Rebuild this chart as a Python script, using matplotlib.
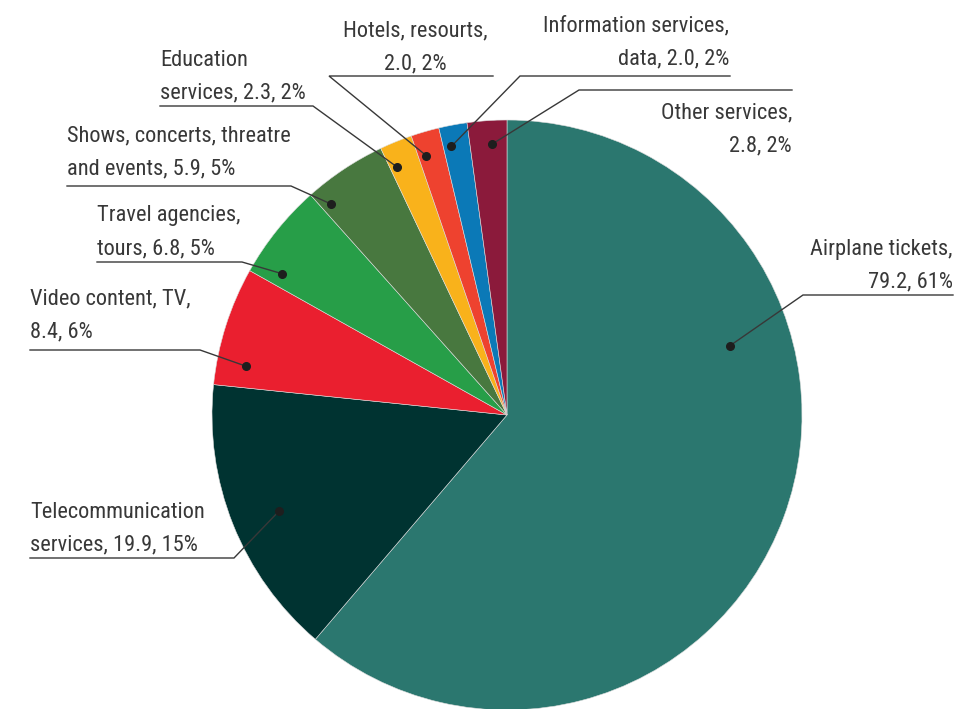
import numpy as np
import matplotlib
matplotlib.use("Agg")
from matplotlib import pyplot, font_manager

categories = ["Airplane tickets", "Telecommunication services", "Video content, TV",
              "Travel agencies, tours", "Shows, concerts, threatre and events",
              "Education services", "Hotels, resourts", "Information services, data",
              "Other services"]
values = [79.2, 19.9, 8.4, 6.8, 5.9, 2.3, 2.0, 2.0, 2.8]
shares = [61, 15, 6, 5, 5, 2, 2, 2, 2]
labels = ["Airplane tickets,\n79.2, 61%",
          "Telecommunication\nservices, 19.9, 15%",
          "Video content, TV,\n8.4, 6%",
          "Travel agencies,\ntours, 6.8, 5%",
          "Shows, concerts, threatre\nand events, 5.9, 5%",
          "Education\nservices, 2.3, 2%",
          "Hotels, resourts,\n2.0, 2%",
          "Information services,\ndata, 2.0, 2%",
          "Other services,\n2.8, 2%"]
colors = ["#2b776f", "#003331", "#ea1f2f", "#279e48", "#48783f",
          "#f9b21b", "#ee422f", "#0b79b7", "#8b1a3b"]

# layout in pixels (y downwards): last-line baseline, alignment, underline, dot placement
text_xy = [(953, 287), (30, 550), (30, 337), (97, 254), (67, 174),
           (160, 98), (415, 69), (729, 64), (792, 151)]
text_ha = ["right", "left", "left", "left", "left", "left", "center", "right", "right"]
rule_y = [295, 558, 350, 262, 186, 106, 76, 76, 90]
rule_x = [(803, 953), (234, 30), (200, 30), (242, 97), (291, 67),
          (313, 160), (329, 493), (520, 730), (579, 792)]
dot_frac = [0.33, 0.48, 0.2, 0.15, 0.12, 0.22, 0.3, 0.3, 0.6]   # along the wedge angle
dot_rad = [0.79, 0.84, 0.90, 0.90, 0.93, 0.92, 0.92, 0.93, 0.92]

W, H = 968, 709
DPI = 100
center = (507, 415)
radius = 295
ink = "#383838"
line_step = 32.5   # px between baselines
word_width = 175   # px width of "Telecommunication"


def pick_font():
    wanted = ["Roboto Condensed", "Liberation Sans Narrow", "DejaVu Sans Condensed",
              "Open Sans Condensed", "Noto Sans Condensed"]
    upright = [f for f in font_manager.fontManager.ttflist if f.style == "normal"]
    for name in wanted:
        key = name.replace(" ", "").lower()
        hits = [f for f in upright
                if f.name == name or key in f.fname.replace("-", "").replace(" ", "").lower()]
        hits = [f for f in hits if "italic" not in f.fname.lower()
                and "oblique" not in f.fname.lower()]
        if hits:
            hits.sort(key=lambda f: abs(int(f.weight) - 400) if str(f.weight).isdigit() else 0)
            return font_manager.FontProperties(fname=hits[0].fname)
    return font_manager.FontProperties(family="Roboto")


fig = pyplot.figure(figsize=(W / DPI, H / DPI), dpi=DPI)
renderer = fig.canvas.get_renderer()

prop = pick_font()
# size the font so that the longest word has the drawn width
prop.set_size(100)
w100, _, _ = renderer.get_text_width_height_descent("Telecommunication", prop, ismath=False)
prop.set_size(100 * word_width / w100)

ax = fig.add_axes([0, 0, 1, 1])

# y axis is inverted below, so counterclockwise in data reads clockwise on screen
wedges, _ = ax.pie(values, colors=colors, radius=radius, center=center,
                   startangle=-90, counterclock=True,
                   wedgeprops=dict(linewidth=0.4, edgecolor="#dddddd"))
ax.set_xlim(0, W)
ax.set_ylim(H, 0)
ax.set_aspect("equal")
ax.axis("off")

for i, w in enumerate(wedges):
    theta = np.radians(w.theta1 + dot_frac[i] * (w.theta2 - w.theta1))
    r = radius * dot_rad[i]
    dx = center[0] + r * np.cos(theta)
    dy = center[1] + r * np.sin(theta)
    x0, x1 = rule_x[i]
    ax.plot([dx, x0, x1], [dy, rule_y[i], rule_y[i]], color=ink, lw=1.0,
            solid_joinstyle="miter", zorder=3)
    ax.plot(dx, dy, "o", color="#1e1e1e", ms=5.5, zorder=4)

    # one text per line so the baselines sit exactly line_step apart
    tx, ty = text_xy[i]
    lines = labels[i].split("\n")
    for j, line in enumerate(lines):
        ax.text(tx, ty - (len(lines) - 1 - j) * line_step, line, ha=text_ha[i],
                va="baseline", fontproperties=prop, color=ink)

fig.savefig("out.png", dpi=DPI)
